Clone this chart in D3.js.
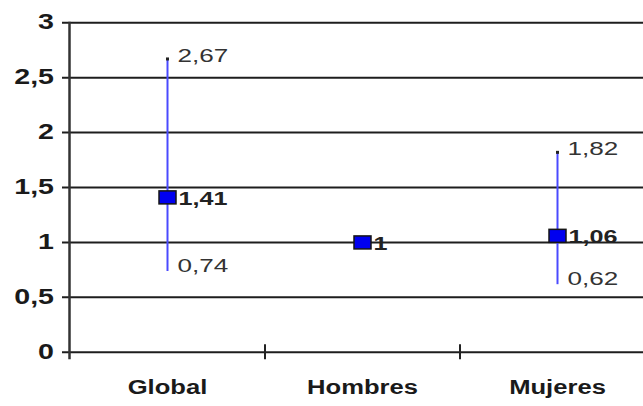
<!DOCTYPE html>
<html>
<head>
<meta charset="utf-8">
<script src="https://cdn.jsdelivr.net/npm/d3@7"></script>
<style>
  html, body { margin: 0; padding: 0; background: #fff; }
  svg { display: block; }
  text { font-family: "Liberation Sans", Arial, sans-serif; }
</style>
</head>
<body>
<svg id="chart" width="643" height="406"></svg>
<script>
// Odds ratio with 95% confidence interval per group
const categories = ["Global", "Hombres", "Mujeres"];
const estimates  = [1.41, 1, 1.06];
const lowerCI    = [0.74, null, 0.62];
const upperCI    = [2.67, null, 1.82];
const yTicks     = [0, 0.5, 1, 1.5, 2, 2.5, 3];

const fmt = v => String(v).replace(".", ",");

const svg = d3.select("#chart");
const margin = { left: 70, top: 22.7, bottom: 352.3 };
const plotRight = 655;

const x = d3.scaleBand().domain(categories).range([margin.left, plotRight]);
const y = d3.scaleLinear().domain([0, 3]).range([margin.bottom, margin.top]);

// stretched text helper (wide type)
function stretched(g, xPos, yPos, str, opts) {
  return g.append("text")
    .attr("transform", `translate(${xPos},${yPos}) scale(${opts.sx || 1.3},1)`)
    .attr("text-anchor", opts.anchor || "start")
    .attr("dominant-baseline", "central")
    .attr("font-size", opts.size)
    .attr("font-weight", opts.weight || "normal")
    .attr("fill", opts.fill || "#222")
    .text(str);
}

// horizontal gridlines
svg.append("g").selectAll("line")
  .data(yTicks)
  .join("line")
  .attr("x1", 62).attr("x2", 643)
  .attr("y1", d => y(d)).attr("y2", d => y(d))
  .attr("stroke", "#1e1e1e").attr("stroke-width", 2);

// y axis line
svg.append("line")
  .attr("x1", 69.5).attr("x2", 69.5)
  .attr("y1", y(3) - 1).attr("y2", y(0) + 7)
  .attr("stroke", "#333").attr("stroke-width", 2.5);

// x axis ticks between categories
const boundaries = categories.slice(1).map(c => x(c));
svg.append("g").selectAll("line")
  .data(boundaries)
  .join("line")
  .attr("x1", d => d).attr("x2", d => d)
  .attr("y1", y(0) - 8).attr("y2", y(0) + 7)
  .attr("stroke", "#222").attr("stroke-width", 2);

// y tick labels
const yl = svg.append("g");
yTicks.forEach(t => {
  stretched(yl, 54, y(t) - 1, fmt(t), { size: 22, weight: "bold", anchor: "end", sx: 1.3, fill: "#1a1a1a" });
});

// category labels
const cl = svg.append("g");
categories.forEach(c => {
  stretched(cl, x(c) + x.bandwidth() / 2, 387, c, { size: 20, weight: "bold", anchor: "middle", sx: 1.28, fill: "#1a1a1a" });
});

// confidence interval whiskers
const marks = svg.append("g");
categories.forEach((c, i) => {
  const cx = x(c) + x.bandwidth() / 2;
  if (lowerCI[i] != null && upperCI[i] != null) {
    marks.append("line")
      .attr("x1", cx).attr("x2", cx)
      .attr("y1", y(upperCI[i])).attr("y2", y(lowerCI[i]))
      .attr("stroke", "#4a4aff").attr("stroke-width", 2);
    marks.append("rect")
      .attr("x", cx - 1.5).attr("y", y(upperCI[i]) - 1.5)
      .attr("width", 3).attr("height", 3)
      .attr("fill", "#222");
    stretched(marks, cx + 10, y(upperCI[i]) - 3, fmt(upperCI[i]), { size: 18, sx: 1.45, fill: "#333" });
    stretched(marks, cx + 10, y(lowerCI[i]) - 5, fmt(lowerCI[i]), { size: 18, sx: 1.45, fill: "#333" });
  }
});

// point estimates
categories.forEach((c, i) => {
  const cx = x(c) + x.bandwidth() / 2;
  const cy = y(estimates[i]);
  marks.append("rect")
    .attr("x", cx - 8.5).attr("y", cy - 6.5)
    .attr("width", 17).attr("height", 13)
    .attr("fill", "#0000f0")
    .attr("stroke", "#151515").attr("stroke-width", 1.5);
  stretched(marks, cx + 11, cy + 1, fmt(estimates[i]), { size: 18, weight: "bold", sx: 1.4, fill: "#222" });
});
</script>
</body>
</html>
